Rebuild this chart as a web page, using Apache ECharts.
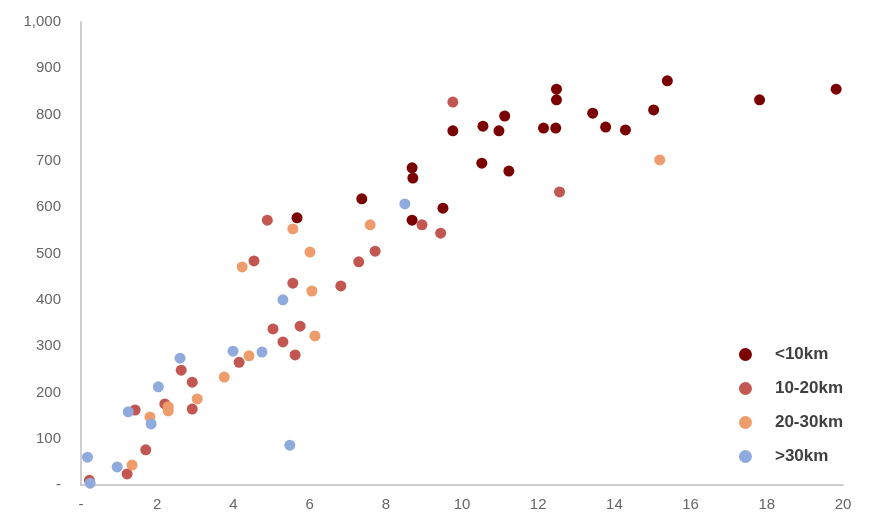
<!DOCTYPE html>
<html>
<head>
<meta charset="utf-8">
<script src="https://cdn.jsdelivr.net/npm/echarts@6/dist/echarts.min.js"></script>
<style>html,body{margin:0;background:#fff}#chart{width:884px;height:528px}</style>
</head>
<body>
<div id="chart"></div>
<script>
var seriesNames = ['<10km', '10-20km', '20-30km', '>30km'];
var seriesColors = ['#7b0000', '#c25752', '#ee9c6c', '#8faadc'];
var under10 = [[5.67,577],[7.37,618],[8.69,685],[8.71,663],[8.69,572],[9.50,598],[9.76,765],[10.52,695],[10.55,775],[10.97,765],[11.12,797],[11.23,678],[12.14,771],[12.48,855],[12.48,832],[12.46,771],[13.43,803],[13.77,773],[14.29,767],[15.03,810],[15.39,873],[17.81,832],[19.82,855]];
var from10to20 = [[0.22,10],[1.21,24],[1.42,162],[1.70,76],[2.20,175],[2.92,222],[2.92,164],[2.63,248],[4.15,265],[4.54,484],[4.89,572],[5.04,337],[5.30,309],[5.62,281],[5.75,343],[5.56,436],[6.82,430],[7.29,482],[7.72,505],[8.95,562],[9.44,544],[9.76,827],[12.56,633]];
var from20to30 = [[1.34,43],[1.81,147],[2.29,160],[2.29,169],[3.05,186],[3.76,233],[4.41,279],[4.23,471],[5.56,553],[6.01,503],[6.06,419],[6.14,322],[7.59,562],[15.19,702]];
var over30 = [[0.17,60],[0.24,4],[0.95,39],[1.24,158],[1.84,132],[2.03,212],[2.60,274],[3.99,289],[4.75,287],[5.30,400],[5.48,86],[8.5,607]];
var allData = [under10, from10to20, from20to30, over30];

var chart = echarts.init(document.getElementById('chart'));
var axisLine = { show: true, lineStyle: { color: '#bfbfbf', width: 1.5 } };
var labelStyle = { color: '#666666', fontSize: 15, fontFamily: 'Liberation Sans, Arial' };
chart.setOption({
  animation: false,
  grid: { left: 81, right: 41, top: 22, bottom: 43 },
  legend: {
    orient: 'vertical', right: 36, top: 341, itemGap: 17,
    icon: 'circle', itemWidth: 13, itemHeight: 13,
    textStyle: { fontSize: 17, fontWeight: 'bold', color: '#404040', padding: [0, 0, 0, 18], fontFamily: 'Liberation Sans, Arial' },
    data: seriesNames
  },
  xAxis: {
    type: 'value', min: 0, max: 20, interval: 2,
    axisLine: axisLine, axisTick: { show: false }, splitLine: { show: false },
    axisLabel: Object.assign({ margin: 12, formatter: function (v) { return v === 0 ? '-' : v; } }, labelStyle)
  },
  yAxis: {
    type: 'value', min: 0, max: 1000, interval: 100,
    axisLine: axisLine, axisTick: { show: false }, splitLine: { show: false },
    axisLabel: Object.assign({ margin: 20, formatter: function (v) { return v === 0 ? '-' : v.toLocaleString('en-US'); } }, labelStyle)
  },
  series: allData.map(function (d, i) {
    return { name: seriesNames[i], type: 'scatter', symbolSize: 11, data: d, itemStyle: { color: seriesColors[i], opacity: 1 } };
  })
});
</script>
</body>
</html>
